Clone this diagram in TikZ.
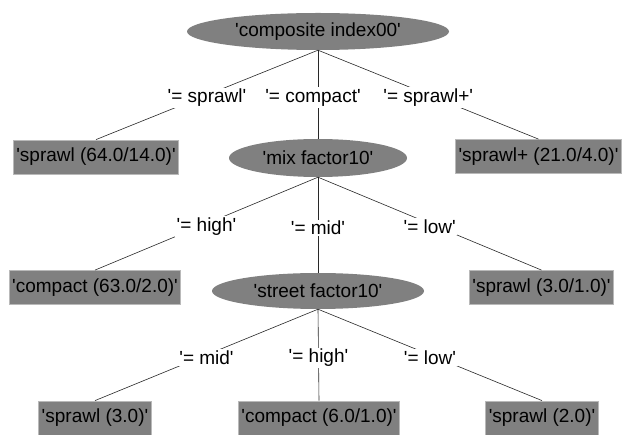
\documentclass[tikz,border=0pt]{standalone}
\usepackage{fontspec}
\newfontfamily\lab{Liberation Sans}
\usetikzlibrary{shapes.geometric}
\definecolor{nodegray}{RGB}{128,128,128}
\definecolor{boxedge}{RGB}{185,185,185}
\definecolor{edgecol}{RGB}{40,40,40}
\begin{document}
\begin{tikzpicture}[x=1pt,y=-1pt,
  every node/.style={font=\lab\fontsize{19}{22}\selectfont},
  inode/.style={ellipse, fill=nodegray, inner sep=0pt},
  leaf/.style={rectangle, fill=nodegray, draw=boxedge, line width=0.8pt, minimum height=34pt, inner xsep=3pt, inner ysep=0pt},
  elabel/.style={fill=white, inner sep=1.5pt, yshift=-3pt},
  edge/.style={draw=edgecol, line width=0.6pt}]
\useasboundingbox[fill=white] (0,0) rectangle (624,435);
% nodes
\node[inode, minimum width=262pt, minimum height=37pt] (root) at (318,31.5) {'composite index00'};
\node[leaf] (l1) at (96,157) {'sprawl (64.0/14.0)'};
\node[inode, minimum width=178pt, minimum height=38pt] (mix) at (318,158) {'mix factor10'};
\node[leaf] (r1) at (538.5,156.5) {'sprawl+ (21.0/4.0)'};
\node[leaf] (c2) at (95,287.5) {'compact (63.0/2.0)'};
\node[inode, minimum width=212pt, minimum height=36pt] (street) at (318,291) {'street factor10'};
\node[leaf] (r2) at (541.5,287.5) {'sprawl (3.0/1.0)'};
\node[leaf] (l3) at (95,418) {'sprawl (3.0)'};
\node[leaf] (c3) at (319,418) {'compact (6.0/1.0)'};
\node[leaf] (r3) at (542,418) {'sprawl (2.0)'};
% edges with labels
\draw[edge] (root.south) -- (l1.north) node[elabel, pos=0.5] (e1) {'= sprawl'};
\draw[edge] (root.south) -- (mix.north) node[elabel, pos=0.5, xshift=-5pt] (e2) {'= compact'};
\draw[edge] (root.south) -- (r1.north) node[elabel, pos=0.5] (e3) {'= sprawl+'};
\draw[edge] (mix.south) -- (c2.north) node[elabel, pos=0.5] (e4) {'= high'};
\draw[edge] (mix.south) -- (street.north) node[elabel, pos=0.5] (e5) {'= mid'};
\draw[edge] (mix.south) -- (r2.north) node[elabel, pos=0.5] (e6) {'= low'};
\draw[edge] (street.south) -- (l3.north) node[elabel, pos=0.5] (e7) {'= mid'};
\draw[edge] (street.south) -- (c3.north) node[elabel, pos=0.5] (e8) {'= high'};
\draw[edge] (street.south) -- (r3.north) node[elabel, pos=0.5] (e9) {'= low'};
\end{tikzpicture}
\end{document}
